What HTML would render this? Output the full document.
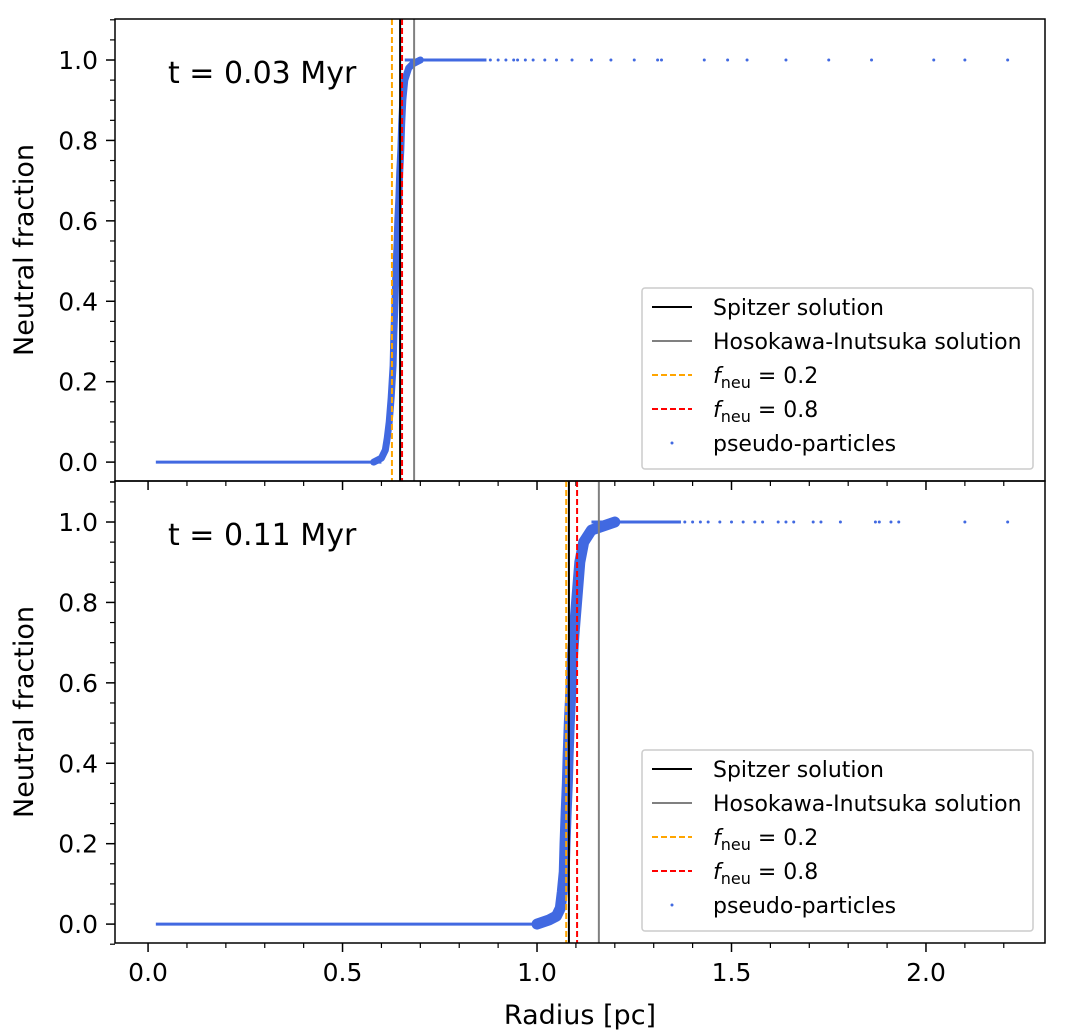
<!DOCTYPE html>
<html><head><meta charset="utf-8"><style>
body{margin:0;background:#fff;}
svg{display:block;font-family:"DejaVu Sans","Liberation Sans",sans-serif;}
</style></head><body>
<svg id="chart" width="1067" height="1036" viewBox="0 0 1067 1036"></svg>
<script>
// ---- data ----
const xTicks=[0.0,0.5,1.0,1.5,2.0];
const xTickLabels=["0.0","0.5","1.0","1.5","2.0"];
const yTicks=[0.0,0.2,0.4,0.6,0.8,1.0];
const yTickLabels=["0.0","0.2","0.4","0.6","0.8","1.0"];
const panelTimes=["t = 0.03 Myr","t = 0.11 Myr"];
const spitzerR=[0.648,1.082];
const hosokawaR=[0.684,1.159];
const fneu02R=[0.627,1.075];
const fneu08R=[0.653,1.103];
const ionizedBand=[[0.02,0.60],[0.02,1.02]];
const neutralBand=[[0.66,0.87],[1.14,1.37]];
const transR=[
 [0.58,0.60,0.61,0.615,0.62,0.625,0.63,0.632,0.635,0.637,0.64,0.642,0.645,0.647,0.65,0.652,0.655,0.66,0.67,0.68,0.70],
 [1.00,1.03,1.05,1.06,1.065,1.07,1.072,1.075,1.078,1.08,1.083,1.087,1.09,1.095,1.10,1.105,1.11,1.12,1.14,1.17,1.20]];
const transF=[
 [0.00,0.01,0.03,0.06,0.10,0.16,0.24,0.32,0.40,0.47,0.54,0.60,0.66,0.72,0.78,0.84,0.90,0.95,0.98,0.99,1.00],
 [0.00,0.01,0.02,0.04,0.08,0.13,0.20,0.28,0.35,0.42,0.50,0.58,0.65,0.72,0.78,0.84,0.90,0.95,0.98,0.99,1.00]];
const sparseR=[
 [0.88,0.90,0.92,0.94,0.95,0.97,0.99,1.02,1.05,1.09,1.14,1.19,1.25,1.31,1.32,1.43,1.49,1.54,1.64,1.75,1.86,2.02,2.10,2.21],
 [1.38,1.40,1.42,1.44,1.47,1.50,1.53,1.56,1.58,1.62,1.64,1.66,1.71,1.73,1.78,1.87,1.88,1.91,1.93,2.10,2.21]];

// ---- geometry ----
const svg=document.getElementById('chart');
const NS="http://www.w3.org/2000/svg";
const X0=115,X1=1045;
const panels=[{top:19,bot:481},{top:481,bot:943}];
const xmin=-0.085,xmax=2.306,ymin=-0.047,ymax=1.102;
function xs(v){return X0+(v-xmin)/(xmax-xmin)*(X1-X0);}
function ys(p,v){return p.bot-(v-ymin)/(ymax-ymin)*(p.bot-p.top);}
function mk(tag,attrs,parent){const e=document.createElementNS(NS,tag);for(const k in attrs)e.setAttribute(k,attrs[k]);(parent||svg).appendChild(e);return e;}
const blue="#4169e1";

panels.forEach((p,i)=>{
  const g=mk('g',{});
  
  
  const ib=mk('line',{x1:xs(ionizedBand[i][0]),x2:xs(ionizedBand[i][1]),y1:ys(p,0),y2:ys(p,0),stroke:blue,'stroke-width':3},g);
  
  
  const nb=mk('line',{x1:xs(neutralBand[i][0]),x2:xs(neutralBand[i][1]),y1:ys(p,1),y2:ys(p,1),stroke:blue,'stroke-width':3},g);
  
  
  let pts=transR[i].map((r,k)=>xs(r)+','+ys(p,transF[i][k])).join(' ');
  const tl=mk('polyline',{points:pts,fill:'none',stroke:blue,'stroke-width':i==0?7:11,'stroke-linejoin':'round','stroke-linecap':'round'},g);
  
  
  sparseR[i].forEach(r=>{
    const c=mk('circle',{cx:xs(r),cy:ys(p,1),r:1.5,fill:blue},g);
    
    
  });
  const vl=[[fneu02R[i],'orange','6,3','fneu-02-line'],[spitzerR[i],'black','','spitzer-line'],[fneu08R[i],'red','6,3','fneu-08-line'],[hosokawaR[i],'gray','','hosokawa-line']];
  vl.forEach(v=>{
    const l=mk('line',{x1:xs(v[0]),x2:xs(v[0]),y1:p.top,y2:p.bot,stroke:v[1],'stroke-width':2,'stroke-dasharray':v[2]},g);
    
    
  });
  const fr=mk('rect',{x:X0,y:p.top,width:X1-X0,height:p.bot-p.top,fill:'none',stroke:'black','stroke-width':1.5},g);
  
  
  yTicks.forEach((t,k)=>{
    mk('line',{x1:X0-9,x2:X0,y1:ys(p,t),y2:ys(p,t),stroke:'black','stroke-width':1.5},g);
    const tx=mk('text',{x:X0-17,y:ys(p,t)+9,'text-anchor':'end','font-size':25},g);
    tx.textContent=yTickLabels[k];
    
    
  });
  for(let t=-0.05;t<=1.101;t+=0.05){
    const tt=Math.round(t*100)/100;
    if(Math.abs(Math.round(tt*5)-tt*5)<1e-6)continue;
    mk('line',{x1:X0-5,x2:X0,y1:ys(p,tt),y2:ys(p,tt),stroke:'black','stroke-width':1.2},g);
  }
  xTicks.forEach(t=>mk('line',{x1:xs(t),x2:xs(t),y1:p.bot,y2:p.bot+9,stroke:'black','stroke-width':1.5},g));
  for(let t=0;t<=2.3;t+=0.1){const tt=Math.round(t*10)/10;if(Math.abs(tt*2-Math.round(tt*2))<1e-6)continue;mk('line',{x1:xs(tt),x2:xs(tt),y1:p.bot,y2:p.bot+5,stroke:'black','stroke-width':1.2},g);}
  const yl=mk('text',{x:0,y:0,transform:`translate(33,${(p.top+p.bot)/2}) rotate(-90)`,'text-anchor':'middle','font-size':27},g);
  yl.textContent='Neutral fraction';
  
  
  const tl2=mk('text',{x:168,y:p.top+64,'font-size':30},g);
  tl2.textContent=panelTimes[i];
  
  
  const L=mk('g',{transform:`translate(642,${p.top+269})`},g);
  
  
  mk('rect',{x:0,y:0,width:391,height:181,rx:3,fill:'white','fill-opacity':0.85,stroke:'#ccc','stroke-width':1.5},L);
  const entries=[['black','','Spitzer solution'],['gray','','Hosokawa-Inutsuka solution'],['orange','6,3','0.2'],['red','6,3','0.8'],['dot','','pseudo-particles']];
  entries.forEach((e,k)=>{
    const yy=19+k*34;
    const eg=mk('g',{},L);
    
    
    if(e[0]==='dot')mk('circle',{cx:30,cy:yy,r:1.5,fill:blue},eg);
    else mk('line',{x1:10,x2:50,y1:yy,y2:yy,stroke:e[0],'stroke-width':2,'stroke-dasharray':e[1]},eg);
    const t=mk('text',{x:71,y:yy+8,'font-size':22},eg);
    if(e[0]==='orange'||e[0]==='red'){
      t.innerHTML='<tspan font-style="italic">f</tspan><tspan font-size="16" dy="5">neu</tspan><tspan dy="-5"> = '+e[2]+'</tspan>';
    } else t.textContent=e[2];
  });
});
xTicks.forEach((t,k)=>{
  const tx=mk('text',{x:xs(t),y:981,'text-anchor':'middle','font-size':25});
  tx.textContent=xTickLabels[k];
  
  
});
const xl=mk('text',{x:580,y:1024,'text-anchor':'middle','font-size':27});
xl.textContent='Radius [pc]';


</script>
</body></html>
